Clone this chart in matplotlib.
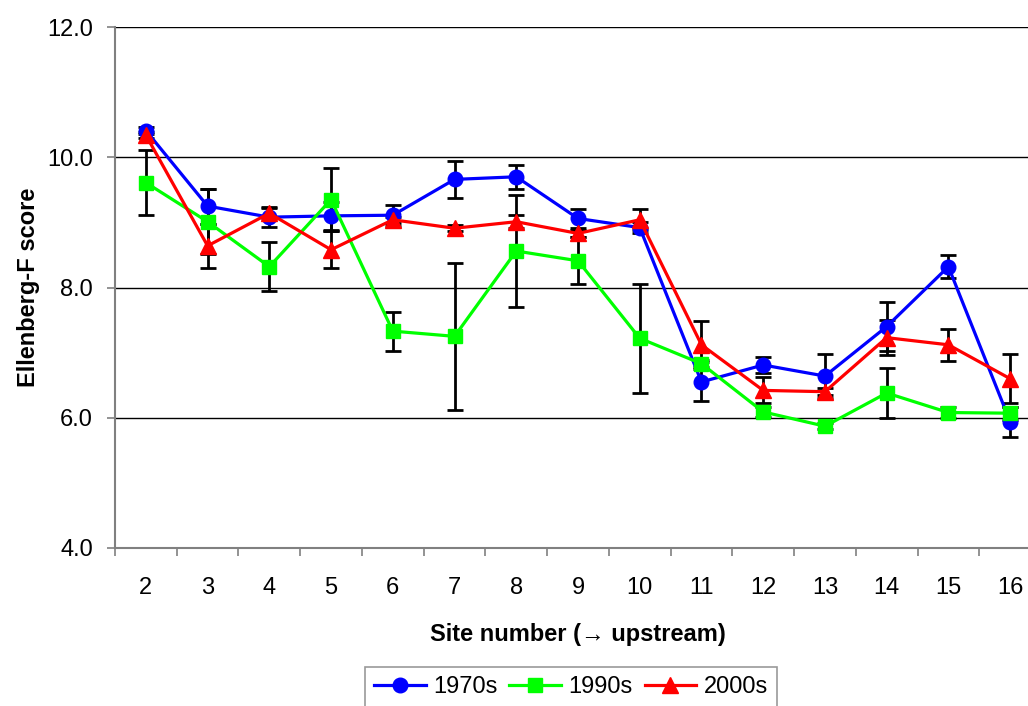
import numpy as np
import matplotlib
matplotlib.use("Agg")
import matplotlib.pyplot as plt

plt.rcParams['font.family'] = ['Liberation Sans', 'DejaVu Sans']

sites = [2, 3, 4, 5, 6, 7, 8, 9, 10, 11, 12, 13, 14, 15, 16]

score_1970s = [10.41, 9.25, 9.08, 9.10, 9.11, 9.66, 9.70, 9.06, 8.92, 6.55, 6.81, 6.64, 7.40, 8.32, 5.94]
err_1970s   = [0.05, 0.27, 0.15, 0.22, 0.16, 0.28, 0.18, 0.15, 0.08, 0.30, 0.12, 0.34, 0.38, 0.18, 0.23]

score_1990s = [9.61, 9.01, 8.32, 9.35, 7.33, 7.25, 8.56, 8.41, 7.22, 6.83, 6.09, 5.87, 6.38, 6.08, 6.07]
err_1990s   = [0.50, 0.50, 0.38, 0.48, 0.30, 1.13, 0.86, 0.36, 0.84, 0.05, 0.08, 0.05, 0.38, 0.08, 0.10]

score_2000s = [10.34, 8.64, 9.14, 8.58, 9.04, 8.91, 9.01, 8.83, 9.04, 7.12, 6.42, 6.40, 7.23, 7.12, 6.60]
err_2000s   = [0.05, 0.34, 0.08, 0.28, 0.05, 0.05, 0.10, 0.05, 0.16, 0.37, 0.20, 0.05, 0.27, 0.25, 0.38]

series = [
    ("1970s", score_1970s, err_1970s, "#0000ff", "o", 10.5),
    ("1990s", score_1990s, err_1990s, "#00ff00", "s", 9.5),
    ("2000s", score_2000s, err_2000s, "#ff0000", "^", 11.5),
]

W, H = 1028, 706
fig = plt.figure(figsize=(W / 100, H / 100), dpi=100)
ax = fig.add_axes([115 / W, 1 - 548 / H, 926 / W, 521 / H])

x = np.arange(len(sites))
handles = []
for label, vals, err, col, mk, ms in series:
    ax.errorbar(x, vals, yerr=err, fmt="none", ecolor="black",
                elinewidth=2.0, capsize=6, capthick=2.0, zorder=2)
    h, = ax.plot(x, vals, color=col, lw=2.3, marker=mk, ms=ms,
                 mfc=col, mec=col, label=label, zorder=3)
    handles.append(h)

ax.set_xlim(-0.5, len(sites) - 0.5)
ax.set_ylim(4, 12)
ax.set_yticks([4, 6, 8, 10, 12])
ax.set_yticklabels([f"{v:.1f}" for v in [4, 6, 8, 10, 12]])
ax.set_xticks(x)
ax.set_xticklabels([str(s) for s in sites])
ax.set_xticks(np.arange(len(sites) + 1) - 0.5, minor=True)

ax.yaxis.grid(True, color="black", lw=1.0)
ax.set_axisbelow(True)
for s in ["top", "right"]:
    ax.spines[s].set_visible(False)
ax.spines["left"].set_color("#808080")
ax.spines["left"].set_linewidth(1.5)
ax.spines["bottom"].set_color("#808080")
ax.spines["bottom"].set_linewidth(1.5)

ax.tick_params(axis="y", length=6, width=1.2, color="#808080", pad=10, labelsize=17)
ax.tick_params(axis="x", which="major", length=0, pad=21, labelsize=17)
ax.tick_params(axis="x", which="minor", length=6, width=1.2, color="#808080")

ax.set_ylabel("Ellenberg-F score", fontsize=17, fontweight="bold", labelpad=5)
ax.set_xlabel("Site number (\u2192 upstream)", fontsize=17, fontweight="bold", labelpad=17)

leg = fig.legend(handles=handles, loc="upper center", ncol=3,
                 bbox_to_anchor=(571 / W, 1 - 667 / H), fontsize=17,
                 frameon=True, fancybox=False, edgecolor="#808080",
                 handlelength=2.2, handletextpad=0.3, columnspacing=0.5,
                 borderpad=0.4, borderaxespad=0)
leg.get_frame().set_linewidth(1.2)

fig.savefig("out.png", dpi=100)
